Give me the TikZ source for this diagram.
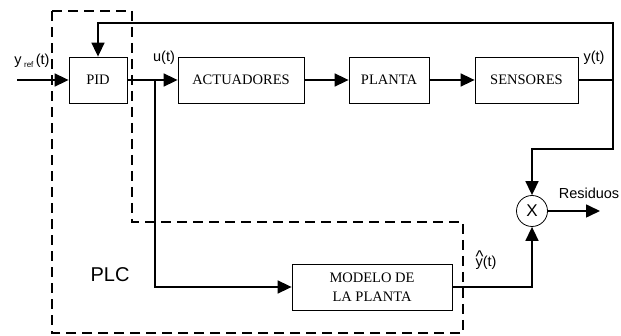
\documentclass[tikz,border=0pt]{standalone}
\usepackage{fontspec}
\setmainfont{Liberation Serif}
\setsansfont{Liberation Sans}
\usetikzlibrary{arrows.meta,positioning}

\begin{document}
\begin{tikzpicture}[x=1pt,y=-1pt,
  bloque/.style={draw,line width=0.8pt,minimum height=46pt,inner sep=0pt,font=\fontsize{14.5}{19}\selectfont},
  linea/.style={line width=1.6pt},
  senal/.style={line width=1.6pt,-{Triangle[length=14pt,width=13pt]}},
  etiq/.style={font=\sffamily\fontsize{14.5}{17}\selectfont},
  plc/.style={line width=1.6pt,dash pattern=on 10pt off 6pt}]
\useasboundingbox (0,0) rectangle (621,336);
% bloques
\node[bloque,minimum width=58pt] (pid) at (98,80) {PID};
\node[bloque,minimum width=126pt] (act) at (241,80) {ACTUADORES};
\node[bloque,minimum width=80pt] (planta) at (389,80) {PLANTA};
\node[bloque,minimum width=103pt] (sens) at (526.5,80) {SENSORES};
\node[bloque,minimum width=160pt,align=center] (modelo) at (372,287) {MODELO DE\\LA PLANTA};
\node[draw,circle,line width=0.8pt,minimum size=31pt,inner sep=0pt,font=\sffamily\fontsize{17}{17}\selectfont] (mult) at (532,211) {X};
% puntos de paso
\coordinate (entrada) at (17,80);
\coordinate (ramal) at (155,80);
\coordinate (esq) at (613,80);
\coordinate (retro) at (613,23);
\coordinate (baja) at (613,149);
\coordinate (salida) at (600,211);
% zona del PLC
\draw[plc] (52,11) -- (132,11) -- (132,222) -- (463,222) -- (463,333) -- (52,333) -- cycle;
% conexiones
\draw[senal] (entrada) -- (pid);
\draw[senal] (pid) -- (act);
\draw[senal] (act) -- (planta);
\draw[senal] (planta) -- (sens);
\draw[senal] (sens.east) -- (esq) -- (retro) -| (pid.north);
\draw[senal] (esq) -- (baja) -| (mult.north);
\draw[senal] (ramal) |- (modelo.west);
\draw[senal] (modelo.east) -| (mult.south);
\draw[senal] (mult.east) -- (salida);
% etiquetas
\node[etiq] (yref) at (32,61) {y\,\raisebox{-3pt}{\fontsize{8}{8}\selectfont ref}\,(t)};
\node[etiq] (u) at (164,58) {u(t)};
\node[etiq] (y) at (594,58) {y(t)};
\node[etiq] (yhat) at (486,260) {\makebox[0pt][l]{\raisebox{3.5pt}{\fontsize{17}{17}\selectfont\textasciicircum}}y(t)};
\node[etiq] (res) at (589,193) {Residuos};
\node[font=\sffamily\fontsize{20}{22}\selectfont] (plclabel) at (110,275) {PLC};
\end{tikzpicture}
\end{document}
